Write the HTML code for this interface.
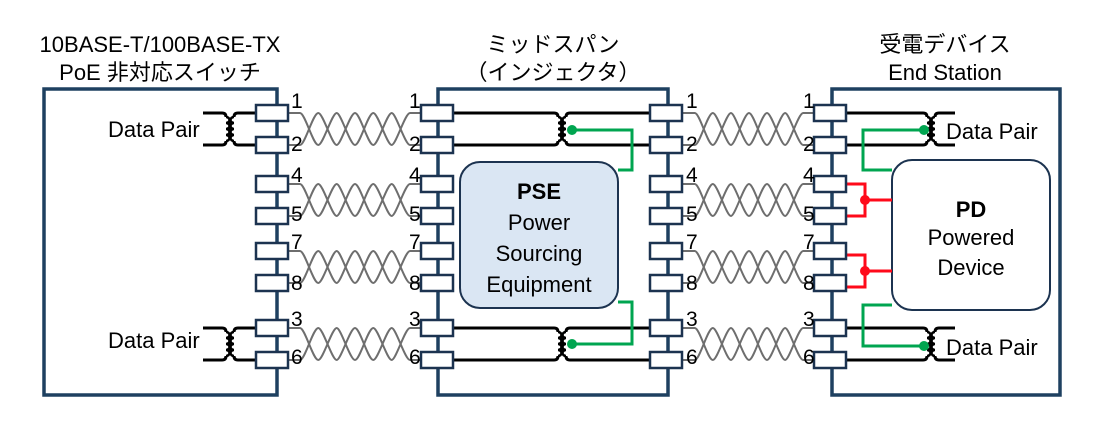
<!DOCTYPE html>
<html><head><meta charset="utf-8"><style>
html,body{margin:0;padding:0;background:#fff;}
svg{display:block;font-family:"Liberation Sans","Noto Sans CJK JP",sans-serif;}
</style></head><body>
<svg width="1098" height="421" viewBox="0 0 1098 421" xmlns="http://www.w3.org/2000/svg">
<defs>
<g id="tp" fill="none" stroke="#6e6e6e" stroke-width="2">
<path d="M0,0 L12,0 C17,0 25,32 30.3,32 C35,32 44,0 48.7,0 C53,0 62,32 67,32 C72,32 80,0 85.3,0 C90,0 99,32 103.7,32 C108,32 117,0 122,0 L133,0"/>
<path d="M0,32 L12,32 C17,32 25,0 30.3,0 C35,0 44,32 48.7,32 C53,32 62,0 67,0 C72,0 80,32 85.3,32 C90,32 99,0 103.7,0 C108,0 117,32 122,32 L133,32"/>
</g>
<g id="coil" fill="none" stroke="#000" stroke-width="2.5">
<path d="M-4,-12 a3.5,3 0 0 1 0,6 a3.5,3 0 0 1 0,6 a3.5,3 0 0 1 0,6 a3.5,3 0 0 1 0,6"/>
<path d="M4,-12 a3.5,3 0 0 0 0,6 a3.5,3 0 0 0 0,6 a3.5,3 0 0 0 0,6 a3.5,3 0 0 0 0,6"/>
<line x1="0" y1="-10" x2="0" y2="10" stroke-width="1.5"/>
</g>
<rect id="pin" x="0" y="-8" width="32" height="16" fill="#fff" stroke="#1c3350" stroke-width="2.5"/>
</defs>

<g font-size="22" text-anchor="middle" fill="#000">
<text x="160" y="52">10BASE-T/100BASE-TX</text>
<text x="160" y="80">PoE 非対応スイッチ</text>
<text x="553" y="52">ミッドスパン</text>
<text x="553" y="80">（インジェクタ）</text>
<text x="945" y="52">受電デバイス</text>
<text x="945" y="80">End Station</text>
</g>

<g fill="none" stroke="#1e4060" stroke-width="3.5">
<rect x="44" y="89" width="233" height="306" fill="#fff"/>
<rect x="438" y="89" width="230" height="306" fill="#fff"/>
<rect x="832" y="89" width="228" height="306" fill="#fff"/>
</g>

<use href="#tp" transform="translate(288,113)"/>
<use href="#tp" transform="translate(288,184)"/>
<use href="#tp" transform="translate(288,251)"/>
<use href="#tp" transform="translate(288,328)"/>
<use href="#tp" transform="translate(683,113) scale(0.985,1)"/>
<use href="#tp" transform="translate(683,184) scale(0.985,1)"/>
<use href="#tp" transform="translate(683,251) scale(0.985,1)"/>
<use href="#tp" transform="translate(683,328) scale(0.985,1)"/>

<g fill="none" stroke="#000" stroke-width="3">
<path d="M203,113 H222 Q226,113 226,117"/><path d="M203,145 H222 Q226,145 226,141"/>
<path d="M256,113 H238 Q234,113 234,117"/><path d="M256,145 H238 Q234,145 234,141"/>
<path d="M203,328 H222 Q226,328 226,332"/><path d="M203,360 H222 Q226,360 226,356"/>
<path d="M256,328 H238 Q234,328 234,332"/><path d="M256,360 H238 Q234,360 234,356"/>
<path d="M453,113 H554 Q558,113 558,117"/><path d="M453,145 H554 Q558,145 558,141"/>
<path d="M650,113 H570 Q566,113 566,117"/><path d="M650,145 H570 Q566,145 566,141"/>
<path d="M453,328 H554 Q558,328 558,332"/><path d="M453,360 H554 Q558,360 558,356"/>
<path d="M650,328 H570 Q566,328 566,332"/><path d="M650,360 H570 Q566,360 566,356"/>
<path d="M846,113 H923 Q927,113 927,117"/><path d="M846,145 H923 Q927,145 927,141"/>
<path d="M955,113 H939 Q935,113 935,117"/><path d="M955,145 H939 Q935,145 935,141"/>
<path d="M846,328 H923 Q927,328 927,332"/><path d="M846,360 H923 Q927,360 927,356"/>
<path d="M955,328 H939 Q935,328 935,332"/><path d="M955,360 H939 Q935,360 935,356"/>
</g>
<use href="#coil" transform="translate(230,129)"/>
<use href="#coil" transform="translate(230,344)"/>
<use href="#coil" transform="translate(562,129)"/>
<use href="#coil" transform="translate(562,344)"/>
<use href="#coil" transform="translate(931,129)"/>
<use href="#coil" transform="translate(931,344)"/>

<rect x="460" y="162" width="158" height="146" rx="20" fill="#dae6f3" stroke="#1c3350" stroke-width="2"/>
<rect x="892" y="160" width="158" height="150" rx="20" fill="#fff" stroke="#1c3350" stroke-width="2"/>

<g fill="none" stroke="#00a550" stroke-width="3">
<path d="M572,130 H632 V170 H618"/>
<path d="M572,344 H632 V302 H618"/>
<path d="M924,130 H863 V170 H892"/>
<path d="M924,346 H863 V305 H892"/>
</g>
<g fill="#00a550">
<circle cx="572" cy="130" r="5"/><circle cx="572" cy="344" r="5"/>
<circle cx="924" cy="130" r="5"/><circle cx="924" cy="346" r="5"/>
</g>
<g fill="none" stroke="#ff0a1a" stroke-width="3">
<path d="M846,184 H865 V216 H846"/><path d="M865,200 H892"/>
<path d="M846,255 H865 V287 H846"/><path d="M865,271 H892"/>
</g>
<g fill="#ff0a1a"><circle cx="865" cy="200" r="5"/><circle cx="865" cy="271" r="5"/></g>

<g>
<use href="#pin" transform="translate(256,113)"/><use href="#pin" transform="translate(256,145)"/>
<use href="#pin" transform="translate(256,184)"/><use href="#pin" transform="translate(256,216)"/>
<use href="#pin" transform="translate(256,251)"/><use href="#pin" transform="translate(256,283)"/>
<use href="#pin" transform="translate(256,328)"/><use href="#pin" transform="translate(256,360)"/>
<use href="#pin" transform="translate(421,113)"/><use href="#pin" transform="translate(421,145)"/>
<use href="#pin" transform="translate(421,184)"/><use href="#pin" transform="translate(421,216)"/>
<use href="#pin" transform="translate(421,251)"/><use href="#pin" transform="translate(421,283)"/>
<use href="#pin" transform="translate(421,328)"/><use href="#pin" transform="translate(421,360)"/>
<use href="#pin" transform="translate(650,113)"/><use href="#pin" transform="translate(650,145)"/>
<use href="#pin" transform="translate(650,184)"/><use href="#pin" transform="translate(650,216)"/>
<use href="#pin" transform="translate(650,251)"/><use href="#pin" transform="translate(650,283)"/>
<use href="#pin" transform="translate(650,328)"/><use href="#pin" transform="translate(650,360)"/>
<use href="#pin" transform="translate(814,113)"/><use href="#pin" transform="translate(814,145)"/>
<use href="#pin" transform="translate(814,184)"/><use href="#pin" transform="translate(814,216)"/>
<use href="#pin" transform="translate(814,251)"/><use href="#pin" transform="translate(814,283)"/>
<use href="#pin" transform="translate(814,328)"/><use href="#pin" transform="translate(814,360)"/>
</g>

<g font-size="21" fill="#000">
<g transform="translate(291,0)">
<text x="0" y="108">1</text><text x="0" y="151">2</text><text x="0" y="182">4</text><text x="0" y="221">5</text>
<text x="0" y="249">7</text><text x="0" y="290">8</text><text x="0" y="326">3</text><text x="0" y="364">6</text></g>
<g transform="translate(409,0)">
<text x="0" y="108">1</text><text x="0" y="151">2</text><text x="0" y="182">4</text><text x="0" y="221">5</text>
<text x="0" y="249">7</text><text x="0" y="290">8</text><text x="0" y="326">3</text><text x="0" y="364">6</text></g>
<g transform="translate(686,0)">
<text x="0" y="108">1</text><text x="0" y="151">2</text><text x="0" y="182">4</text><text x="0" y="221">5</text>
<text x="0" y="249">7</text><text x="0" y="290">8</text><text x="0" y="326">3</text><text x="0" y="364">6</text></g>
<g transform="translate(803,0)">
<text x="0" y="108">1</text><text x="0" y="151">2</text><text x="0" y="182">4</text><text x="0" y="221">5</text>
<text x="0" y="249">7</text><text x="0" y="290">8</text><text x="0" y="326">3</text><text x="0" y="364">6</text></g>
</g>

<g font-size="22" fill="#000">
<text x="108" y="137">Data Pair</text>
<text x="108" y="348">Data Pair</text>
<text x="946" y="139">Data Pair</text>
<text x="946" y="355">Data Pair</text>
</g>
<g font-size="22" fill="#000" text-anchor="middle">
<text x="539" y="199" font-weight="bold">PSE</text>
<text x="539" y="230">Power</text>
<text x="539" y="261">Sourcing</text>
<text x="539" y="292">Equipment</text>
<text x="971" y="217" font-weight="bold">PD</text>
<text x="971" y="245">Powered</text>
<text x="971" y="275">Device</text>
</g>
</svg>
</body></html>
